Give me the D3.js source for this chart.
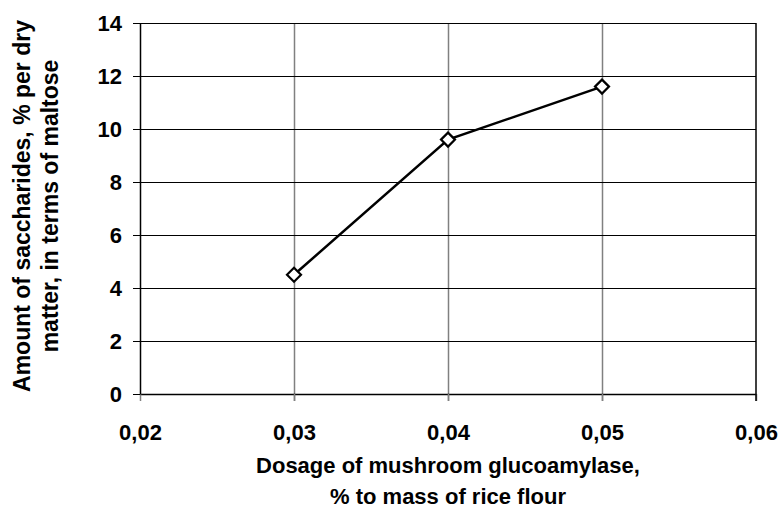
<!DOCTYPE html>
<html>
<head>
    <meta charset="utf-8">
    <script src="https://d3js.org/d3.v7.min.js"></script>
    <style>
        body { margin: 0; background: #fff; }
        text { font-family: "Liberation Sans", Arial, sans-serif; font-weight: bold; fill: #000; }
    </style>
</head>
<body>
    <div id="chart"></div>
    <script>
        // Data
        var dosage = [0.03, 0.04, 0.05];
        var saccharides = [4.5, 9.6, 11.6];
        var xTicks = [0.02, 0.03, 0.04, 0.05, 0.06];
        var yTicks = [0, 2, 4, 6, 8, 10, 12, 14];
        var xTitle = ['Dosage of mushroom glucoamylase,', '% to mass of rice flour'];
        var yTitle = ['Amount of saccharides, % per dry', 'matter, in terms of maltose'];

        var W = 783, H = 515;
        var margin = { top: 23, right: 27, bottom: 121, left: 140 };
        var width = W - margin.left - margin.right;
        var height = H - margin.top - margin.bottom;
        var fontSize = 22;

        var svg = d3.select('#chart').append('svg')
            .attr('width', W)
            .attr('height', H);

        var g = svg.append('g')
            .attr('transform', 'translate(' + margin.left + ',' + margin.top + ')');

        var x = d3.scaleLinear().domain([0.02, 0.06]).range([0, width]);
        var y = d3.scaleLinear().domain([0, 14]).range([height, 0]);

        // vertical grid lines (grey)
        g.selectAll('.vgrid')
            .data(xTicks.slice(1, -1))
            .enter().append('line')
            .attr('x1', function(d) { return Math.round(x(d)) + 0.5; })
            .attr('x2', function(d) { return Math.round(x(d)) + 0.5; })
            .attr('y1', 0)
            .attr('y2', height + 7)
            .attr('stroke', '#808080')
            .attr('stroke-width', 1.5);

        // horizontal grid lines (dark)
        g.selectAll('.hgrid')
            .data(yTicks.slice(1))
            .enter().append('line')
            .attr('x1', -7)
            .attr('x2', width)
            .attr('y1', function(d) { return Math.round(y(d)) + 0.5; })
            .attr('y2', function(d) { return Math.round(y(d)) + 0.5; })
            .attr('stroke', '#000')
            .attr('stroke-width', 1);

        // axes with outward ticks
        var xAxis = g.append('g')
            .attr('transform', 'translate(0,' + height + ')')
            .call(d3.axisBottom(x).tickValues(xTicks).tickSize(7).tickSizeOuter(0)
                .tickFormat(function(d) { return d3.format('.2f')(d).replace('.', ','); }));
        xAxis.select('.domain').attr('stroke', '#000').attr('stroke-width', 1.5);
        xAxis.selectAll('.tick line').attr('stroke', '#808080').attr('stroke-width', 1.5);
        xAxis.selectAll('text').attr('font-size', fontSize).attr('dy', 0).attr('y', 46)
            .attr('font-family', '"Liberation Sans", Arial, sans-serif').attr('font-weight', 'bold');

        var yAxis = g.append('g')
            .call(d3.axisLeft(y).tickValues(yTicks).tickSize(7).tickSizeOuter(0));
        yAxis.select('.domain').attr('stroke', '#000').attr('stroke-width', 1.5);
        yAxis.selectAll('.tick line').attr('stroke', '#000');
        yAxis.selectAll('text').attr('font-size', fontSize).attr('x', -18).attr('dy', '0.35em')
            .attr('font-family', '"Liberation Sans", Arial, sans-serif').attr('font-weight', 'bold');

        // right border
        g.append('line')
            .attr('x1', width).attr('x2', width)
            .attr('y1', 0).attr('y2', height + 7)
            .attr('stroke', '#000').attr('stroke-width', 1.5);

        // series line
        var pts = dosage.map(function(d, i) { return [d, saccharides[i]]; });
        var line = d3.line()
            .x(function(d) { return x(d[0]); })
            .y(function(d) { return y(d[1]); });

        g.append('path')
            .datum(pts)
            .attr('fill', 'none')
            .attr('stroke', '#000')
            .attr('stroke-width', 2.5)
            .attr('d', line);

        // diamond markers
        g.selectAll('.marker')
            .data(pts)
            .enter().append('path')
            .attr('transform', function(d) { return 'translate(' + x(d[0]) + ',' + y(d[1]) + ')'; })
            .attr('d', 'M0,-7L7,0L0,7L-7,0Z')
            .attr('fill', '#fff')
            .attr('stroke', '#000')
            .attr('stroke-width', 2.2);

        // axis titles
        svg.append('text')
            .attr('text-anchor', 'middle')
            .attr('font-size', fontSize)
            .selectAll('tspan')
            .data(xTitle)
            .enter().append('tspan')
            .attr('x', margin.left + width / 2)
            .attr('y', function(d, i) { return 473 + i * 31; })
            .text(function(d) { return d; });

        svg.append('text')
            .attr('text-anchor', 'middle')
            .attr('font-size', 23)
            .attr('transform', 'translate(0,' + 206 + ') rotate(-90)')
            .selectAll('tspan')
            .data(yTitle)
            .enter().append('tspan')
            .attr('x', 0)
            .attr('y', function(d, i) { return 30 + i * 28; })
            .text(function(d) { return d; });
    </script>
</body>
</html>
